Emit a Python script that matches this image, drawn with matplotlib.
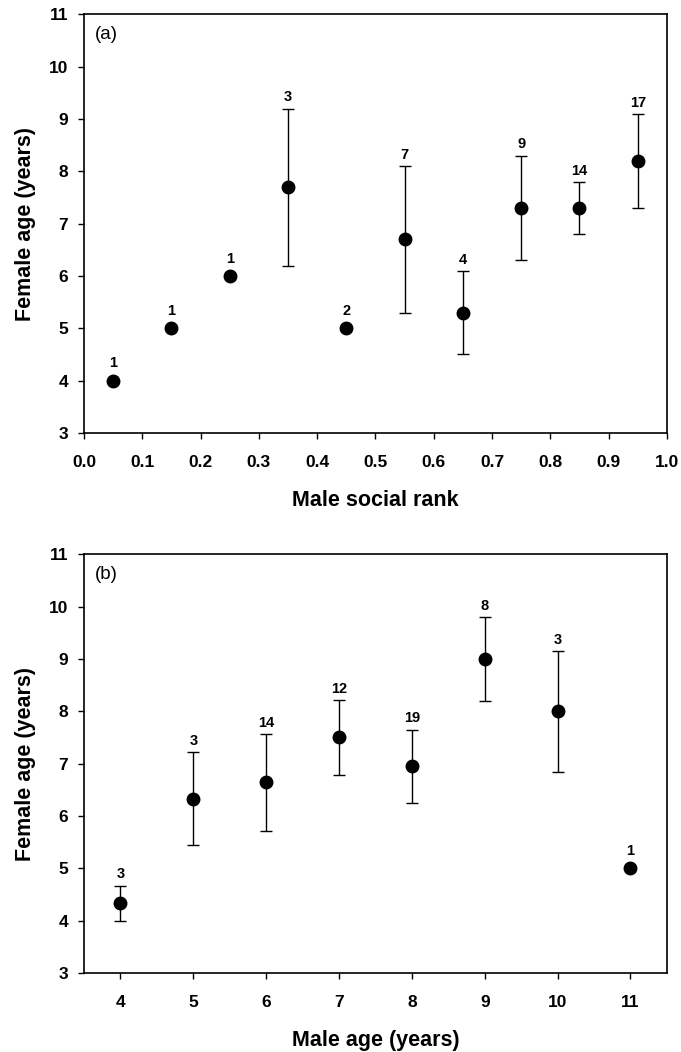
import matplotlib
matplotlib.use("Agg")
import matplotlib.pyplot as plt
import numpy as np

plt.rcParams['font.family'] = ['Liberation Sans', 'DejaVu Sans']

# Panel (a)
rank = [0.05, 0.15, 0.25, 0.35, 0.45, 0.55, 0.65, 0.75, 0.85, 0.95]
age_a = [4.0, 5.0, 6.0, 7.7, 5.0, 6.7, 5.3, 7.3, 7.3, 8.2]
upper_a = [4.0, 5.0, 6.0, 9.2, 5.0, 8.1, 6.1, 8.3, 7.8, 9.1]
lower_a = [4.0, 5.0, 6.0, 6.2, 5.0, 5.3, 4.5, 6.3, 6.8, 7.3]
n_a = [1, 1, 1, 3, 2, 7, 4, 9, 14, 17]

# Panel (b)
male_age = [4, 5, 6, 7, 8, 9, 10, 11]
age_b = [4.33, 6.33, 6.65, 7.5, 6.95, 9.0, 8.0, 5.0]
upper_b = [4.67, 7.22, 7.57, 8.22, 7.65, 9.8, 9.15, 5.0]
lower_b = [4.0, 5.45, 5.72, 6.78, 6.24, 8.2, 6.84, 5.0]
n_b = [3, 3, 14, 12, 19, 8, 3, 1]

fig = plt.figure(figsize=(6.81, 10.52), dpi=100)
ax1 = fig.add_axes([0.1233, 0.5884, 0.856, 0.398])
ax2 = fig.add_axes([0.1233, 0.0751, 0.856, 0.398])


def panel(ax, x, y, up, lo, n, tag):
    y = np.array(y); up = np.array(up); lo = np.array(lo)
    has = up > y
    ax.errorbar(np.array(x)[has], y[has], yerr=[y[has] - lo[has], up[has] - y[has]],
                fmt='none', ecolor='black', elinewidth=1.0, capsize=4.5, capthick=1.0)
    ax.plot(x, y, 'o', color='black', markersize=9, zorder=3)
    for xi, yi, ui, ni in zip(x, y, up, n):
        top = ui if ui > yi else yi + 0.12
        ax.annotate(str(ni), (xi, top), xytext=(0, 3), textcoords='offset points',
                    ha='center', va='bottom', fontsize=10.5, fontweight='bold')
    ax.text(0.019, 0.972, tag, transform=ax.transAxes, ha='left', va='top', fontsize=13.5)
    ax.set_ylim(3, 11)
    ax.set_yticks(range(3, 12))
    ax.tick_params(direction='out', length=4.5, width=1, labelsize=12.5)
    ax.tick_params(axis='x', pad=11)
    ax.tick_params(axis='y', pad=7)
    for lab in ax.get_xticklabels() + ax.get_yticklabels():
        lab.set_fontweight('bold')
    for s in ax.spines.values():
        s.set_linewidth(1.2)
    ax.set_ylabel('Female age (years)', fontsize=15.5, fontweight='bold', labelpad=9)


ax1.set_xlim(0, 1)
ax1.set_xticks(np.round(np.arange(0, 1.01, 0.1), 1))
ax1.set_xticklabels([f'{v:.1f}' for v in np.arange(0, 1.01, 0.1)])
panel(ax1, rank, age_a, upper_a, lower_a, n_a, '(a)')
ax1.set_xlabel('Male social rank', fontsize=15.5, fontweight='bold', labelpad=15)

ax2.set_xlim(3.5, 11.5)
ax2.set_xticks(male_age)
panel(ax2, male_age, age_b, upper_b, lower_b, n_b, '(b)')
ax2.set_xlabel('Male age (years)', fontsize=15.5, fontweight='bold', labelpad=15)

fig.savefig('out.png', dpi=100)
